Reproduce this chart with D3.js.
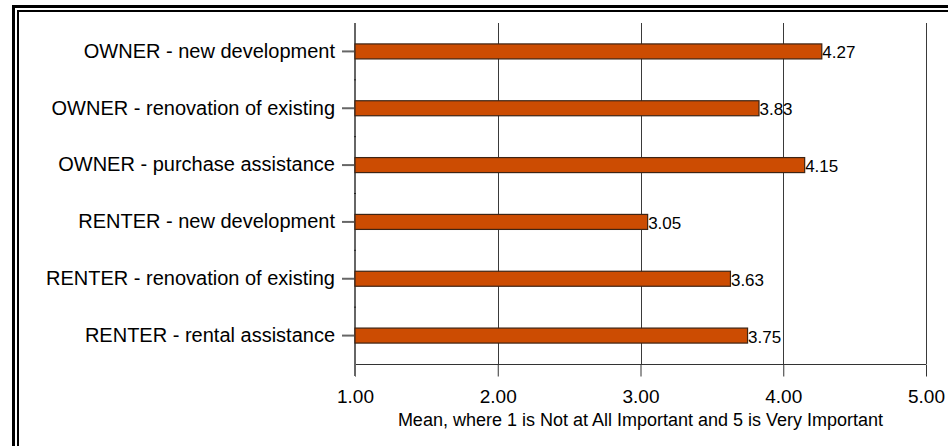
<!DOCTYPE html>
<html>
<head>
<meta charset="utf-8">
<script src="https://cdn.jsdelivr.net/npm/d3@7"></script>
<style>
  html, body { margin: 0; padding: 0; background: #fff; }
  svg { display: block; font-family: "Liberation Sans", Arial, sans-serif; }
</style>
</head>
<body>
<svg id="chart" width="948" height="446"></svg>
<script>
// Housing priorities: mean importance ratings
const categories = [
  "OWNER - new development",
  "OWNER - renovation of existing",
  "OWNER - purchase assistance",
  "RENTER - new development",
  "RENTER - renovation of existing",
  "RENTER - rental assistance"
];
const means = [4.27, 3.83, 4.15, 3.05, 3.63, 3.75];
const xTicks = [1, 2, 3, 4, 5];
const xTitle = "Mean, where 1 is Not at All Important and 5 is Very Important";

const svg = d3.select("#chart");

// Double frame around the chart
svg.append("path")
  .attr("d", "M13.5,446 V6.5 H948")
  .attr("fill", "none").attr("stroke", "#000").attr("stroke-width", 3);
svg.append("path")
  .attr("d", "M18,446 V11 H948")
  .attr("fill", "none").attr("stroke", "#000").attr("stroke-width", 2);

const plot = { left: 355, right: 926, top: 23, bottom: 364 };

const x = d3.scaleLinear().domain([1, 5]).range([plot.left, plot.right]);
const y = d3.scaleBand().domain(categories).range([plot.top, plot.bottom]).padding(0);

// Vertical gridlines
svg.append("g")
  .selectAll("line")
  .data(xTicks.slice(1))
  .join("line")
  .attr("x1", d => Math.round(x(d)) + 0.5)
  .attr("x2", d => Math.round(x(d)) + 0.5)
  .attr("y1", plot.top)
  .attr("y2", plot.bottom)
  .attr("stroke", "#3a3a3a")
  .attr("stroke-width", 1);

// Bottom axis
const xAxis = svg.append("g")
  .attr("transform", `translate(0,${plot.bottom + 0.5})`)
  .call(d3.axisBottom(x).tickValues(xTicks).tickFormat(d3.format(".2f")).tickSize(12).tickPadding(13));
xAxis.select(".domain").attr("stroke", "#333").attr("d", `M${plot.left},0H${plot.right}`);
xAxis.selectAll(".tick line").attr("stroke", "#333");
xAxis.selectAll(".tick text")
  .attr("fill", "#000")
  .style("font-size", "19px")
  .style("font-family", "'Liberation Sans', Arial, sans-serif");

// Axis title
svg.append("text")
  .attr("x", (plot.left + plot.right) / 2)
  .attr("y", 426)
  .attr("text-anchor", "middle")
  .style("font-size", "18px")
  .attr("fill", "#000")
  .text(xTitle);

// Left axis
const yAxis = svg.append("g")
  .attr("transform", `translate(${plot.left},0)`)
  .call(d3.axisLeft(y).tickSize(13).tickPadding(7));
yAxis.select(".domain")
  .attr("d", `M0,${plot.top}V${plot.bottom + 12}`)
  .attr("stroke", "#666").attr("stroke-width", 2);
yAxis.selectAll(".tick line").attr("stroke", "#666").attr("stroke-width", 2);
yAxis.selectAll(".tick text")
  .attr("fill", "#000")
  .style("font-size", "20px")
  .style("font-family", "'Liberation Sans', Arial, sans-serif");

// Small minor ticks at category boundaries
svg.append("g")
  .selectAll("line")
  .data(categories.slice(1))
  .join("line")
  .attr("x1", plot.left - 1)
  .attr("x2", plot.left + 1)
  .attr("y1", d => y(d))
  .attr("y2", d => y(d))
  .attr("stroke", "#222");

// Bars
const barH = 15;
const rows = categories.map((c, i) => ({ c, v: means[i] }));
svg.append("g")
  .selectAll("rect")
  .data(rows)
  .join("rect")
  .attr("x", x(1))
  .attr("y", d => y(d.c) + y.bandwidth() / 2 - barH / 2)
  .attr("width", d => x(d.v) - x(1))
  .attr("height", barH)
  .attr("fill", "#cc4c02")
  .attr("stroke", "#3d2414")
  .attr("stroke-width", 1.2);

// Value labels
svg.append("g")
  .selectAll("text")
  .data(rows)
  .join("text")
  .attr("x", d => x(d.v) + 0.5)
  .attr("y", d => y(d.c) + y.bandwidth() / 2 + 7)
  .style("font-size", "17px")
  .attr("fill", "#000")
  .text(d => d3.format(".2f")(d.v));
</script>
</body>
</html>
